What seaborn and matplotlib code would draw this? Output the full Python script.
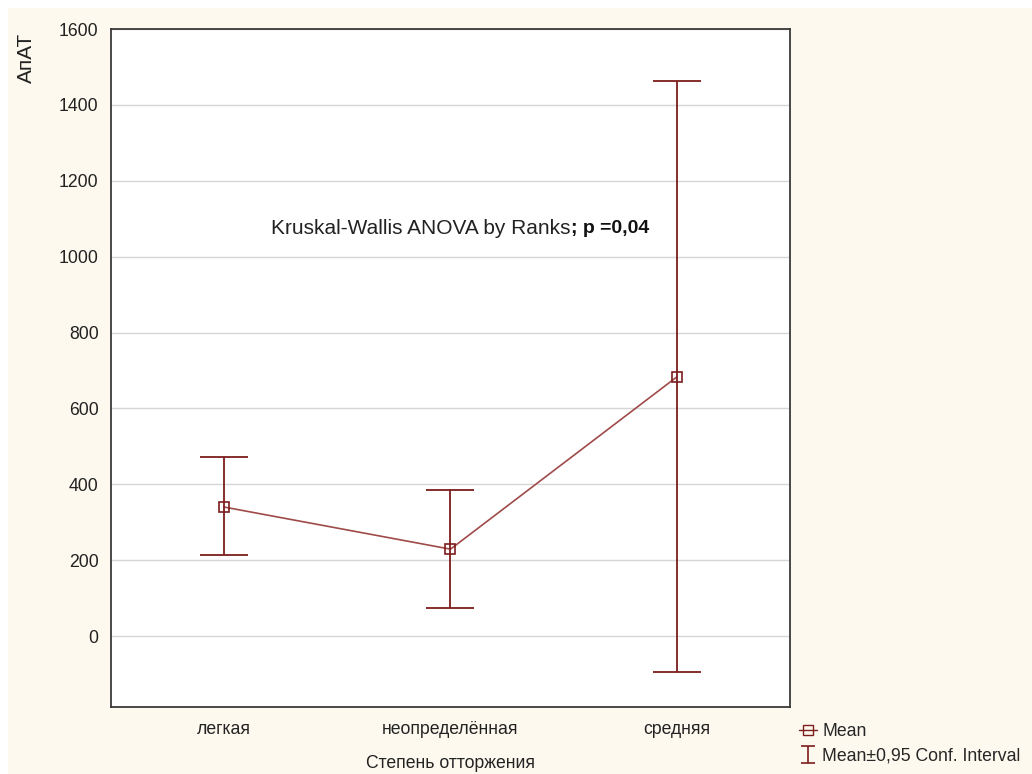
import numpy as np
import pandas as pd
import matplotlib
matplotlib.use("Agg")
import matplotlib.pyplot as plt
from matplotlib.lines import Line2D
from matplotlib.patches import Rectangle
import seaborn as sns

# data
groups = ["легкая", "неопределённая", "средняя"]
means = [340, 229, 683]
ci_low = [213, 74, -95]
ci_high = [472, 385, 1463]
yticks = [0, 200, 400, 600, 800, 1000, 1200, 1400, 1600]

df = pd.DataFrame({"group": groups, "mean": means})

dark_red = "#7d1c1c"
line_red = "#a04a4a"
cream = "#fdf9ee"
txt = "#222222"

sns.set_theme(style="white")
plt.rcParams["font.family"] = ["Liberation Sans", "DejaVu Sans"]

fig = plt.figure(figsize=(10.32, 7.74), dpi=100)
fig.patch.set_facecolor("white")
fig.patches.append(Rectangle((8 / 1032, 0), 1, 1 - 8 / 774, transform=fig.transFigure,
                             facecolor=cream, edgecolor="none", zorder=-10))
ax = fig.add_axes([111 / 1032, 67 / 774, 679 / 1032, 678 / 774])
ax.set_facecolor("white")

# means with connecting line
sns.pointplot(data=df, x="group", y="mean", ax=ax, errorbar=None, color=line_red,
              markers="s", linestyles="-", markersize=7, linewidth=1.2,
              markerfacecolor="none", markeredgecolor=dark_red, markeredgewidth=1.2)

# confidence intervals
m = np.array(means)
yerr = np.vstack([m - np.array(ci_low), np.array(ci_high) - m])
ax.errorbar(np.arange(len(groups)), m, yerr=yerr, fmt="none", ecolor=dark_red,
            elinewidth=1.3, capsize=17, capthick=1.3, zorder=3)
# small proxy for the legend (nan -> nothing drawn)
eb_proxy = ax.errorbar([np.nan], [np.nan], yerr=[1], fmt="none", ecolor=dark_red,
                       elinewidth=1.2, capsize=5, capthick=1.2)

ax.set_xlim(-0.5, 2.5)
ax.set_ylim(-187, 1600)
ax.set_yticks(yticks)
ax.yaxis.grid(True, color="#d6d6d6", linewidth=1)
ax.set_axisbelow(True)
for s in ax.spines.values():
    s.set_color("#3a3a3a")
    s.set_linewidth(1.3)
ax.tick_params(axis="y", direction="out", length=4, labelsize=12.7, colors=txt, pad=5)
ax.tick_params(axis="x", direction="in", length=4, labelsize=12.7, colors=txt, pad=10)

ax.set_xlabel("Степень отторжения", fontsize=12.7, color=txt, labelpad=12)
ax.set_ylabel("АпАТ", fontsize=15, color=txt, loc="top")
ax.yaxis.set_label_coords(-0.11, 0.995)

t1 = ax.text(271 / 1032, 1073, "Kruskal-Wallis ANOVA by Ranks", ha="left", va="center",
             fontsize=15, color=txt,
             transform=matplotlib.transforms.blended_transform_factory(fig.transFigure, ax.transData))
ax.annotate("; p =0,04", xy=(1, 0.5), xycoords=t1, xytext=(0.5, 0), textcoords="offset points",
            ha="left", va="center", fontsize=14, fontweight="bold", color="#111111")

mean_handle = Line2D([], [], color=dark_red, marker="s", markersize=7,
                     markerfacecolor="none", linestyle="-", linewidth=1)
fig.legend([mean_handle, eb_proxy], ["Mean", "Mean±0,95 Conf. Interval"],
           loc="lower left", bbox_to_anchor=(787 / 1032, -0.004), frameon=False,
           fontsize=12.7, handlelength=1.0, handletextpad=0.3, labelspacing=0.45,
           borderaxespad=0.3)

fig.savefig("out.png", dpi=100, facecolor=fig.get_facecolor())
